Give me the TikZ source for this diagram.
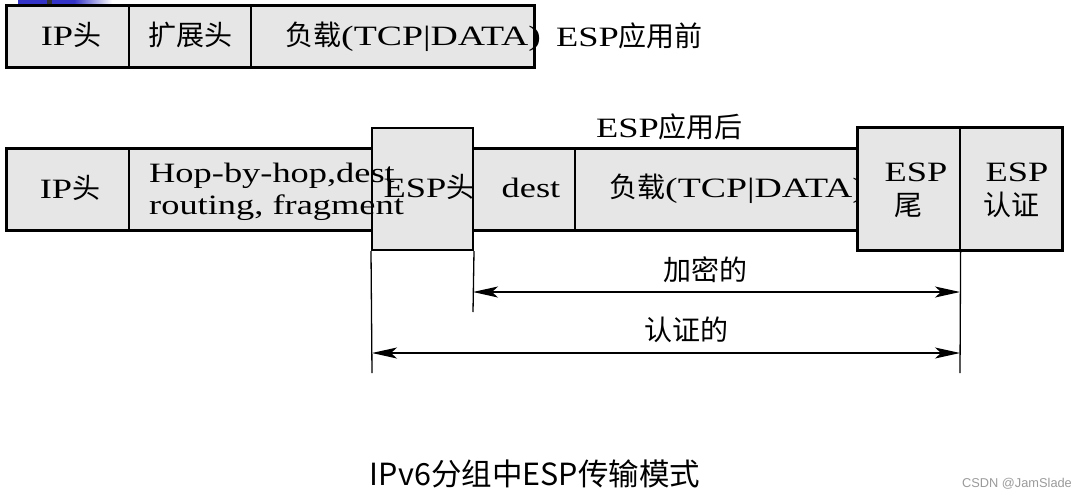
\documentclass[tikz,border=0pt]{standalone}
\usepackage{fontspec}
\setmainfont{Liberation Serif}[FakeStretch=1.3]
\newfontfamily\widefont{Liberation Serif}[FakeStretch=1.35]
\newfontfamily\zhfont{Noto Sans CJK SC}
\newfontfamily\wmfont{Liberation Sans}
\usetikzlibrary{arrows.meta}
\newcommand\zh[1]{{\zhfont #1}}
\definecolor{cellgray}{HTML}{E6E6E6}
\definecolor{wmgray}{HTML}{9A9A9A}
\definecolor{barblue}{HTML}{3434C8}
\begin{document}
\begin{tikzpicture}[x=1pt,y=-1pt,
  cell/.style={draw=black, line width=1.2pt, fill=cellgray, inner sep=0pt},
  frame/.style={draw=black, line width=2pt},
  lbl/.style={inner sep=0pt, font=\fontsize{28}{33}\selectfont},
  extline/.style={draw=black, line width=1.3pt},
  dimarrow/.style={draw=black, line width=1.3pt,
    {Stealth[length=25pt,width=11pt,inset=6pt]}-{Stealth[length=25pt,width=11pt,inset=6pt]}},
  caption/.style={inner sep=0pt, font=\zhfont\fontsize{30.5}{36}\selectfont},
  watermark/.style={inner sep=0pt, text=wmgray, font=\wmfont\fontsize{12.8}{15}\selectfont}
]
\useasboundingbox (0,0) rectangle (1087,499);
% slide decoration bar
\fill[barblue] (18,0) rectangle (74,5.5);
\shade[left color=barblue, right color=white] (74,0) rectangle (112,5.5);
\fill[black!80] (47,0) rectangle (52,5.5);

% ---------- top row: before ESP ----------
\node[cell, minimum width=122pt, minimum height=61pt] (ip1) at (68,36.5) {};
\node[cell, minimum width=122pt, minimum height=61pt] (ext1) at (190,36.5) {};
\node[cell, minimum width=283pt, minimum height=61pt] (pay1) at (392.5,36.5) {};
\draw[frame] (ip1.north west) rectangle (pay1.south east);
\node[lbl, anchor=base] (ip1t) at (71,45) {IP\zh{头}};
\node[lbl, anchor=base] (ext1t) at (190,45) {\zh{扩展头}};
\node[lbl, anchor=base west] (pay1t) at (285,45) {\zh{负载}\widefont(TCP|DATA)};
\node[lbl, anchor=base west] (before) at (556,46) {ESP\zh{应用前}};

% ---------- middle row: after ESP ----------
\node[cell, minimum width=122pt, minimum height=81pt] (ip2) at (68,189.5) {};
\node[cell, minimum width=243pt, minimum height=81pt] (hop2) at (250.5,189.5) {};
\node[cell, minimum width=102pt, minimum height=81pt] (dest2) at (524,189.5) {};
\node[cell, minimum width=283pt, minimum height=81pt] (pay2) at (716.5,189.5) {};
\draw[frame] (ip2.north west) rectangle (hop2.south east);
\draw[frame] (dest2.north west) rectangle (pay2.south east);
\node[cell, frame, minimum width=101pt, minimum height=122pt] (esph) at (422.5,189) {};
\node[lbl, anchor=base] (ip2t) at (70,198) {IP\zh{头}};
\node[lbl, anchor=base west] (hopa) at (149,182) {Hop-by-hop,dest};
\node[lbl, anchor=base west] (hopb) at (149,214) {routing, fragment};
\node[lbl, anchor=base] (espht) at (429,197) {ESP\zh{头}};
\node[lbl, anchor=base] (dest2t) at (531,197) {dest};
\node[lbl, anchor=base west] (pay2t) at (609,197) {\zh{负载}\widefont(TCP|DATA)};
\node[lbl, anchor=base west] (after) at (596,137) {ESP\zh{应用后}};

\node[cell, minimum width=102pt, minimum height=122pt] (espt) at (909,189) {};
\node[cell, minimum width=102pt, minimum height=122pt] (espa) at (1011,189) {};
\draw[frame] (espt.north west) rectangle (espa.south east);
\node[lbl, anchor=base] (esptt1) at (916,181) {ESP};
\node[lbl, anchor=base] (esptt2) at (908,215) {\zh{尾}};
\node[lbl, anchor=base] (espat1) at (1017,181) {ESP};
\node[lbl, anchor=base] (espat2) at (1011,215) {\zh{认证}};

% ---------- dimension lines ----------
\coordinate (xl) at (372,373);
\coordinate (xm) at (473,312);
\coordinate (xr) at (960,373);
\coordinate (encl) at (473,292);
\coordinate (encr) at (960,292);
\coordinate (autl) at (372,353);
\coordinate (autr) at (960,353);
\draw[extline] (esph.south west) -- (xl);
\draw[extline] (esph.south east) -- (xm);
\draw[extline] (espt.south east) -- (xr);
\draw[dimarrow] (encl) -- (encr);
\draw[dimarrow] (autl) -- (autr);
\node[lbl] (enct) at (705,270) {\zh{加密的}};
\node[lbl] (autt) at (686,330) {\zh{认证的}};

% ---------- caption and watermark ----------
\node[caption] (cap) at (535,474) {IPv6分组中ESP传输模式};
\node[watermark] (wm) at (1017,484) {CSDN @JamSlade};
\end{tikzpicture}
\end{document}
